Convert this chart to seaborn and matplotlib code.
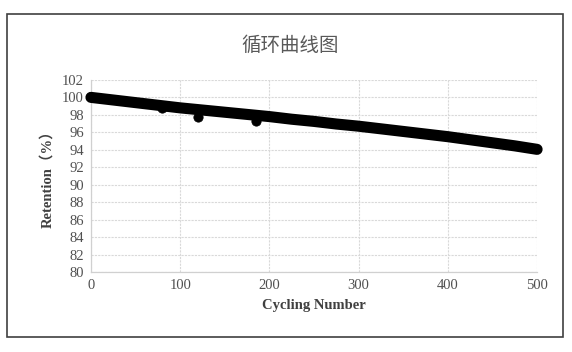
import pandas as pd
import seaborn as sns
import matplotlib
matplotlib.use("Agg")
from matplotlib import pyplot as plt
from matplotlib.patches import Rectangle

# values
cycles = [0, 25, 50, 75, 100, 125, 150, 175, 200, 225, 250, 275, 300,
          325, 350, 375, 400, 425, 450, 475, 500]
retention = [100.0, 99.7, 99.4, 99.1, 98.8, 98.55, 98.3, 98.05, 97.8, 97.5,
             97.25, 96.95, 96.7, 96.4, 96.1, 95.8, 95.5, 95.15, 94.8, 94.45, 94.05]
outlier_cycles = [80, 120, 185]
outlier_retention = [98.75, 97.75, 97.25]

title = "循环曲线图"
x_label = "Cycling Number"
y_label = "Retention（%）"
x_ticks = [0, 100, 200, 300, 400, 500]
y_ticks = list(range(80, 104, 2))

sns.set_style("white")
plt.rcParams['font.family'] = ['Liberation Serif', 'Noto Sans CJK SC', 'DejaVu Sans']

fig = plt.figure(figsize=(5.72, 3.52), dpi=100)
ax = fig.add_axes([0.159, 0.227, 0.780, 0.546])

# outer chart border
fig.patches.append(Rectangle((7 / 572, 1 - 337 / 352), 556 / 572, 323 / 352,
                             transform=fig.transFigure, fill=False,
                             edgecolor='#404040', linewidth=1.2))

df = pd.DataFrame({'cycle': cycles, 'retention': retention})
out = pd.DataFrame({'cycle': outlier_cycles, 'retention': outlier_retention})

sns.lineplot(data=df, x='cycle', y='retention', ax=ax, color='black',
             linewidth=8, solid_capstyle='round', zorder=3, clip_on=False)
sns.scatterplot(data=out, x='cycle', y='retention', ax=ax, color='black',
                s=45, edgecolor='black', zorder=3)

ax.set_xlim(0, 500)
ax.set_ylim(80, 102)
ax.set_xticks(x_ticks)
ax.set_yticks(y_ticks)
ax.grid(True, color='#d9d9d9', linestyle=(0, (2, 1)), linewidth=0.8)
for side in ['top', 'right']:
    ax.spines[side].set_visible(False)
for side in ['left', 'bottom']:
    ax.spines[side].set_color('#d0d0d0')
    ax.spines[side].set_linewidth(0.9)
ax.tick_params(axis='both', length=0, labelsize=10.5, colors='#505050', pad=5)

ax.set_xlabel(x_label, fontsize=10.5, fontweight='bold', color='#404040', labelpad=5)
ax.set_ylabel(y_label, fontsize=10.5, fontweight='bold', color='#404040', labelpad=6)
fig.text(0.507, 1 - 45 / 352, title, fontsize=14, color='#595959',
         family=['Noto Sans CJK SC', 'DejaVu Sans'], ha='center', va='center')

fig.savefig('out.png', dpi=100)
